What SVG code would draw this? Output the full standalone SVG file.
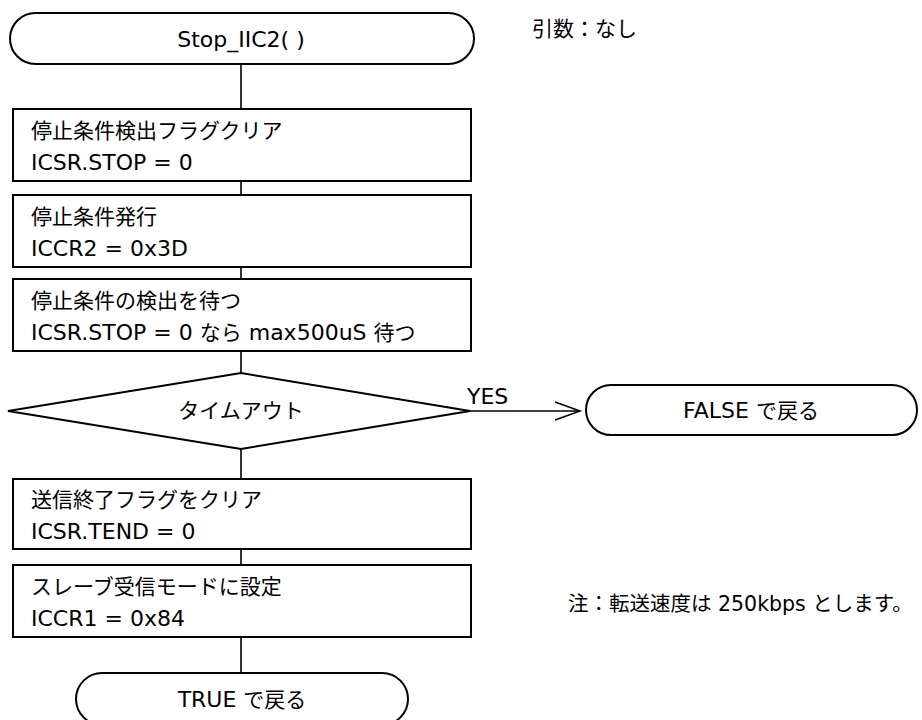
<svg xmlns="http://www.w3.org/2000/svg" width="922" height="720" viewBox="0 0 922 720">
<style>
.s{fill:#fff;stroke:#000;stroke-width:2}
.c{fill:none;stroke:#000;stroke-width:1.6}
text{font-family:"DejaVu Sans","Noto Sans CJK JP",sans-serif;font-size:22px;fill:#000}
.j{font-family:"Noto Sans CJK JP",sans-serif;font-size:21px}
.m{text-anchor:middle}
</style>
<g id="connectors">
<line class="c" x1="241" y1="64" x2="241" y2="109"/>
<line class="c" x1="241" y1="181" x2="241" y2="195"/>
<line class="c" x1="241" y1="267" x2="241" y2="279"/>
<line class="c" x1="241" y1="351" x2="241" y2="373"/>
<line class="c" x1="241" y1="449" x2="241" y2="479"/>
<line class="c" x1="241" y1="549" x2="241" y2="565"/>
<line class="c" x1="241" y1="637" x2="241" y2="673"/>
<line class="c" x1="470" y1="411" x2="580" y2="411"/>
<polyline class="c" points="555,402 580,411 555,420"/>
<text x="467" y="404">YES</text>
</g>
<g id="start">
<rect class="s" x="10" y="13" width="464" height="51" rx="25.5"/>
<text class="m" x="241" y="47">Stop_IIC2( )</text>
</g>
<g id="box1">
<rect class="s" x="13" y="109" width="458" height="72"/>
<text x="31" y="138" class="j">停止条件検出フラグクリア</text>
<text x="31" y="170">ICSR.STOP = 0</text>
</g>
<g id="box2">
<rect class="s" x="13" y="195" width="458" height="72"/>
<text x="31" y="224" class="j">停止条件発行</text>
<text x="31" y="256">ICCR2 = 0x3D</text>
</g>
<g id="box3">
<rect class="s" x="13" y="279" width="458" height="72"/>
<text x="31" y="308" class="j">停止条件の検出を待つ</text>
<text x="31" y="340">ICSR.STOP = 0 <tspan class="j">なら</tspan> max500uS <tspan class="j">待つ</tspan></text>
</g>
<g id="decision">
<polygon class="s" points="241,373 470,411 241,449 8,411"/>
<text class="m j" x="241" y="418">タイムアウト</text>
</g>
<g id="false">
<rect class="s" x="586" y="385" width="331" height="50" rx="25"/>
<text class="m" x="751" y="418">FALSE <tspan class="j">で戻る</tspan></text>
</g>
<g id="box4">
<rect class="s" x="13" y="479" width="458" height="70"/>
<text x="31" y="507" class="j">送信終了フラグをクリア</text>
<text x="31" y="539">ICSR.TEND = 0</text>
</g>
<g id="box5">
<rect class="s" x="13" y="565" width="458" height="72"/>
<text x="31" y="594" class="j">スレーブ受信モードに設定</text>
<text x="31" y="626">ICCR1 = 0x84</text>
</g>
<g id="end">
<rect class="s" x="76" y="673" width="332" height="52" rx="26"/>
<text class="m" x="242" y="707">TRUE <tspan class="j">で戻る</tspan></text>
</g>
<g id="notes">
<text x="532" y="36" class="j">引数：なし</text>
<text x="568" y="611" style="font-size:20.5px"><tspan class="j" style="font-size:20.5px">注：転送速度は</tspan> 250kbps <tspan class="j" style="font-size:20.5px">とします。</tspan></text>
</g>
</svg>
